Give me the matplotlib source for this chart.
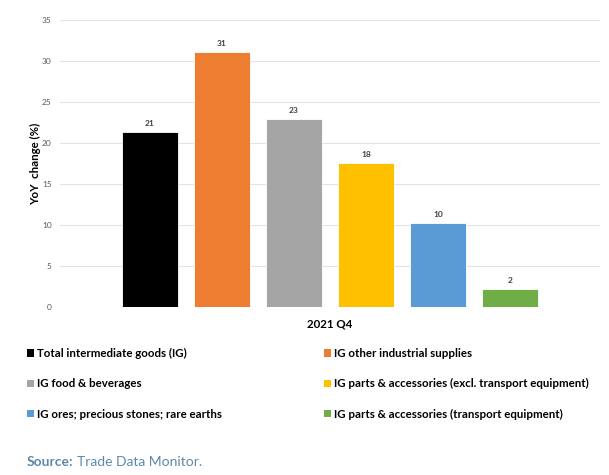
import matplotlib
matplotlib.use("Agg")
import matplotlib.pyplot as plt
from matplotlib.patches import Patch

categories = ["Total intermediate goods (IG)", "IG other industrial supplies",
              "IG food & beverages", "IG parts & accessories (excl. transport equipment)",
              "IG ores; precious stones; rare earths", "IG parts & accessories (transport equipment)"]
values = [21.4, 31.1, 22.9, 17.6, 10.2, 2.2]
colors = ["#000000", "#ED7D31", "#A5A5A5", "#FFC000", "#5B9BD5", "#70AD47"]
yticks = [0, 5, 10, 15, 20, 25, 30, 35]
xlabel = "2021 Q4"

plt.rcParams['font.family'] = ['Lato', 'DejaVu Sans']

fig = plt.figure(figsize=(6.09, 4.75), dpi=100)
ax = fig.add_axes([60/609, 1-307/475, 540/609, 287/475])

x = list(range(len(values)))
bars = ax.bar(x, values, width=0.787, color=colors, edgecolor="white", linewidth=0.6, zorder=3)
for xi, v in zip(x, values):
    ax.text(xi, v + 0.6, f"{v:.0f}", ha="center", va="bottom", fontsize=6,
            fontweight="bold", color="#404040")

ax.set_xlim(-1.25, 6.25)
ax.set_ylim(0, 35)
ax.set_yticks(yticks)
ax.set_yticklabels([str(t) for t in yticks], fontsize=6, color="#595959")
ax.set_xticks([])
ax.yaxis.grid(True, color="#E3E3E3", linewidth=0.8, zorder=0)
ax.tick_params(axis="y", length=0, pad=6)
for s in ax.spines.values():
    s.set_visible(False)
ax.set_ylabel("YoY  change (%)", fontsize=8.3, fontweight="bold", labelpad=0.5)
ax.set_xlabel(xlabel, fontsize=8.3, fontweight="bold", labelpad=8)

order = [0, 2, 4, 1, 3, 5]
handles = [Patch(facecolor=colors[i], edgecolor="none", label=categories[i]) for i in order]
fig.legend(handles=handles, ncol=2, loc="upper left", bbox_to_anchor=(0.044, 1-348/475),
           frameon=False, prop={"weight": "bold", "size": 8.3}, handlelength=0.6,
           handleheight=0.6, handletextpad=0.3, labelspacing=1.68, columnspacing=8.8,
           borderaxespad=0, borderpad=0)

src_color = "#5E89AA"
t1 = fig.text(27/609, 1-462/475, "Source:", fontsize=10, fontweight="bold", color=src_color, va="center")
fig.canvas.draw()
bb = t1.get_window_extent()
fig.text((bb.x1 + 3)/609, 1-462/475, "Trade Data Monitor.", fontsize=10, color=src_color, va="center")

fig.savefig("out.png", dpi=100)
